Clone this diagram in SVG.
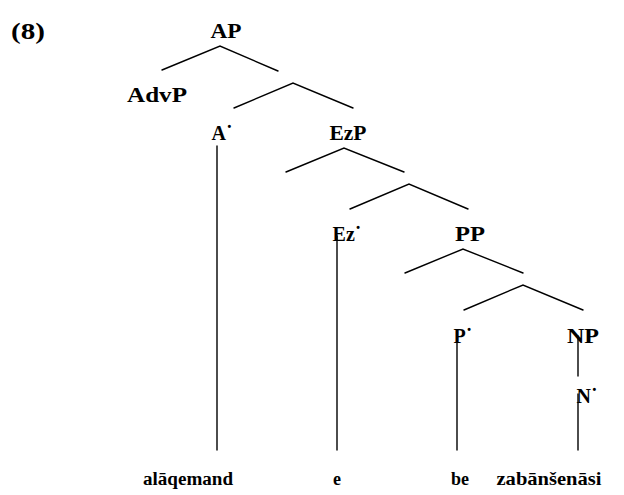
<svg xmlns="http://www.w3.org/2000/svg" width="624" height="495" viewBox="0 0 624 495">
<style>
text{font-family:"Liberation Serif","Times New Roman",serif;font-weight:bold;font-size:20px;fill:#000;text-anchor:middle}
.w{font-size:18px}
.l{stroke:#000;stroke-width:1.4;fill:none;stroke-linecap:round}
</style>
<rect width="624" height="495" fill="#fff"/>
<text x="28" y="39" style="font-size:23px" textLength="34" lengthAdjust="spacingAndGlyphs">(8)</text>
<g id="connectors">
<polyline class="l" points="162,70 220,46 278,71"/>
<polyline class="l" points="234,108 293,83 353,108"/>
<polyline class="l" points="286,172 344,148 404,172"/>
<polyline class="l" points="350,209 409,184 468,209"/>
<polyline class="l" points="405,273 463,249 523,273"/>
<polyline class="l" points="464,310 523,285 583,310"/>
<line class="l" x1="217" y1="146" x2="217" y2="450"/>
<line class="l" x1="337" y1="236" x2="337" y2="450"/>
<line class="l" x1="457" y1="336" x2="457" y2="450"/>
<line class="l" x1="578" y1="336" x2="578" y2="376"/>
<line class="l" x1="578" y1="394" x2="578" y2="450"/>
</g>
<g id="AP"><text x="226" y="38" textLength="31" lengthAdjust="spacingAndGlyphs">AP</text></g>
<g id="AdvP"><text x="157" y="102" textLength="60" lengthAdjust="spacingAndGlyphs">AdvP</text></g>
<g id="A1"><text x="222" y="140">A˙</text></g>
<g id="EzP"><text x="348" y="140" textLength="37" lengthAdjust="spacingAndGlyphs">EzP</text></g>
<g id="Ez1"><text x="347" y="241">Ez˙</text></g>
<g id="PP"><text x="470" y="241" textLength="30" lengthAdjust="spacingAndGlyphs">PP</text></g>
<g id="P1"><text x="463" y="343">P˙</text></g>
<g id="NP"><text x="583" y="343" textLength="32" lengthAdjust="spacingAndGlyphs">NP</text></g>
<g id="N1"><text x="587" y="403">N˙</text></g>
<g id="words">
<text class="w" x="188" y="485" textLength="90" lengthAdjust="spacingAndGlyphs">alāqemand</text>
<text class="w" x="337" y="485">e</text>
<text class="w" x="460" y="485">be</text>
<text class="w" x="549" y="485" textLength="105" lengthAdjust="spacingAndGlyphs">zabānšenāsi</text>
</g>
</svg>
